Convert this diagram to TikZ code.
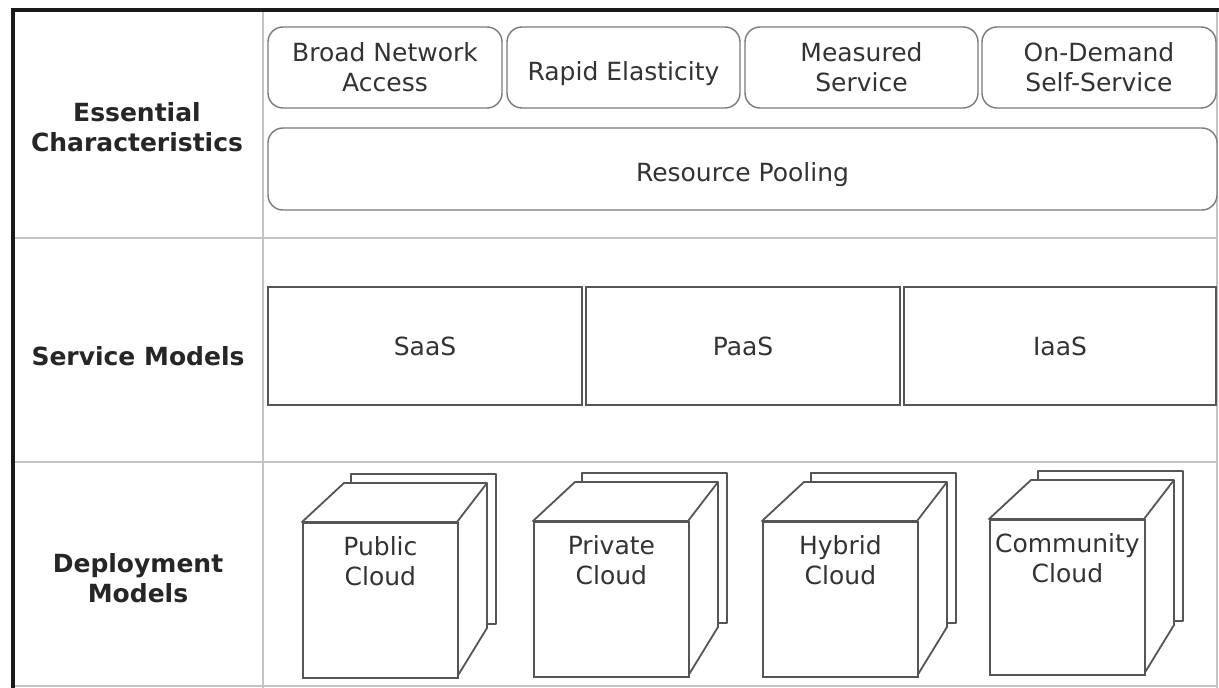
\documentclass[tikz,border=0pt]{standalone}
\usepackage{fontspec}
\setmainfont{DejaVu Sans}
\definecolor{txt}{HTML}{333333}
\definecolor{edge}{HTML}{555555}
\definecolor{soft}{HTML}{7A7A7A}
\definecolor{rule}{HTML}{C4C4C4}

% one deployment model: a stacked cube whose front face is the named node
\newcommand\cloudcube[4]{%
  \draw[cubeline] (#2+49,#3-48) rectangle (#2+194,#3+102);
  \draw[cubeline] (#2,#3) -- (#2+42,#3-39) -- (#2+185,#3-39) -- (#2+185,#3+106)
                  -- (#2+155,#3+155) -- (#2+155,#3) -- cycle;
  \draw[cubeline] (#2+155,#3) -- (#2+185,#3-39);
  \node[cubeface, anchor=north west] (#1) at (#2,#3) {};
  \node[cubetext, anchor=north] (#1-label) at ([yshift=-14pt]#1.north) {#4};
}

\begin{document}
\begin{tikzpicture}[x=1pt,y=-1pt,
  every node/.style={text=txt, font=\fontsize{25}{30}\selectfont},
  rowlabel/.style={align=center, font=\fontsize{25}{30}\selectfont\bfseries, text=black!85},
  charbox/.style={draw=soft, line width=1.4pt, rounded corners=15pt, fill=white,
                  align=center, minimum height=81pt, inner sep=0pt},
  oneline/.style={text height=25pt, text depth=0pt},
  svcbox/.style={draw=edge, line width=1.8pt, fill=white, minimum height=118pt, inner sep=0pt},
  cubeline/.style={draw=edge, line width=1.8pt, fill=white, line join=round},
  cubeface/.style={draw=edge, line width=1.8pt, fill=white, minimum width=155pt,
                   minimum height=155pt, inner sep=0pt},
  cubetext/.style={align=center, inner sep=0pt},
  gridline/.style={draw=rule, line width=2pt},
  frameline/.style={draw=black!90, line width=4pt}
]
\useasboundingbox (0,0) rectangle (1219,688);
\fill[white] (0,0) rectangle (1219,688);

% table grid
\draw[gridline] (15,238) -- (1217,238);
\draw[gridline] (15,462) -- (1217,462);
\draw[gridline] (263,12) -- (263,688);
\draw[draw=rule, line width=1.2pt] (1217,12) -- (1217,688);
\draw[draw=rule, line width=1.2pt] (15,686) -- (1217,686);
\draw[frameline] (13,688) -- (13,10) -- (1219,10);

% row headings
\node[rowlabel] (ec) at (137,127) {Essential\\Characteristics};
\node[rowlabel] (sm) at (138,356) {Service Models};
\node[rowlabel] (dm) at (138,578) {Deployment\\Models};

% essential characteristics
\node[charbox, minimum width=234pt] (bna) at (385,67.5) {Broad Network\\Access};
\node[charbox, oneline, minimum width=233pt] (re)  at (623.5,67.5) {Rapid Elasticity};
\node[charbox, minimum width=233pt] (ms)  at (861.5,67.5) {Measured\\Service};
\node[charbox, minimum width=234pt] (ods) at (1099,67.5) {On-Demand\\Self-Service};
\node[charbox, oneline, minimum width=949pt, minimum height=82pt] (rp) at (742.5,169) {Resource Pooling};

% service models
\node[svcbox, minimum width=314pt] (saas) at (425,346) {SaaS};
\node[svcbox, minimum width=314pt] (paas) at (743,346) {PaaS};
\node[svcbox, minimum width=312pt] (iaas) at (1060,346) {IaaS};

% deployment models
\cloudcube{pub}{302}{522}{Public\\Cloud}
\cloudcube{priv}{533}{521}{Private\\Cloud}
\cloudcube{hyb}{762}{521}{Hybrid\\Cloud}
\cloudcube{com}{989}{519}{Community\\Cloud}
\end{tikzpicture}
\end{document}
